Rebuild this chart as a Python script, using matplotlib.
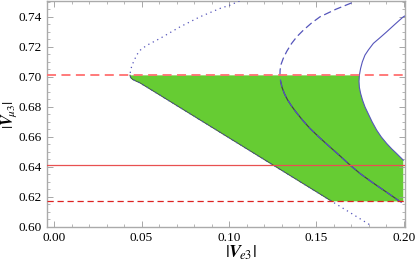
import matplotlib
matplotlib.use("Agg")
import matplotlib.pyplot as plt
from matplotlib.ticker import MultipleLocator

plt.rcParams['font.family'] = ['Liberation Serif', 'DejaVu Serif']
plt.rcParams['mathtext.fontset'] = 'stix'

# dotted curve, read from top end round the tip to bottom end
dot_x = [0.1060, 0.1006, 0.0949, 0.0834, 0.0720, 0.0606, 0.0530, 0.0495, 0.0475, 0.0458,
         0.0445, 0.0437, 0.0434, 0.0438, 0.0450, 0.0468, 0.0491, 0.0600, 0.0750, 0.0900,
         0.1050, 0.1200, 0.1350, 0.1500, 0.1587, 0.1700, 0.1815]
dot_y = [0.7505, 0.7478, 0.7456, 0.7400, 0.7333, 0.7256, 0.7210, 0.7180, 0.7150, 0.7110,
         0.7075, 0.7040, 0.7011, 0.6995, 0.6982, 0.6972, 0.6960, 0.6882, 0.6774, 0.6666,
         0.6558, 0.6450, 0.6342, 0.6234, 0.6171, 0.6090, 0.6007]

# dashed curve
dash_x = [0.1701, 0.1610, 0.1520, 0.1470, 0.1425, 0.1388, 0.1358, 0.1330, 0.1310, 0.1298,
          0.1292, 0.1291, 0.1295, 0.1303, 0.1316, 0.1333, 0.1355, 0.1380, 0.1420, 0.1463,
          0.1515, 0.1570, 0.1630, 0.1691, 0.1750, 0.1815, 0.1890, 0.1967, 0.2000]
dash_y = [0.7493, 0.7450, 0.7400, 0.7357, 0.7311, 0.7268, 0.7223, 0.7170, 0.7123, 0.7085,
          0.7045, 0.7011, 0.6970, 0.6930, 0.6890, 0.6850, 0.6810, 0.6770, 0.6712, 0.6656,
          0.6598, 0.6540, 0.6478, 0.6413, 0.6355, 0.6300, 0.6240, 0.6178, 0.6152]

# solid curve
sol_x = [0.2006, 0.1996, 0.1948, 0.1901, 0.1862, 0.1825, 0.1797, 0.1777, 0.1762, 0.1752,
         0.1745, 0.1743, 0.1745, 0.1752, 0.1763, 0.1777, 0.1795, 0.1818, 0.1844, 0.1870,
         0.1901, 0.1930, 0.1958, 0.1996]
sol_y = [0.7406, 0.7400, 0.7350, 0.7300, 0.7260, 0.7223, 0.7180, 0.7145, 0.7100, 0.7056,
         0.7011, 0.6970, 0.6930, 0.6890, 0.6845, 0.6800, 0.6756, 0.6700, 0.6645, 0.6600,
         0.6556, 0.6520, 0.6489, 0.6445]

y_upper = 0.701
y_lower = 0.617
y_mid = 0.641

fig = plt.figure(figsize=(4.15, 2.63), dpi=100)
ax = fig.add_axes([0.1133, 0.137, 0.8627, 0.859])

# green allowed region
reg_x = [0.0434, 0.1745]
reg_y = [y_upper, y_upper]
for xx, yy in zip(sol_x, sol_y):
    if yy < y_upper:
        reg_x.append(xx); reg_y.append(yy)
reg_x += [0.1996, 0.1996]
reg_y += [0.6445, y_lower]
lower = [(xx, yy) for xx, yy in zip(dot_x[12:], dot_y[12:]) if yy >= y_lower]
for xx, yy in reversed(lower):
    reg_x.append(xx); reg_y.append(yy)
ax.fill(reg_x, reg_y, color='#66cc33', lw=0, zorder=1)

# boundary of green along dotted branch
ax.plot([p[0] for p in lower], [p[1] for p in lower], color='#3a5a3a', lw=0.7, zorder=2)
# dashed branch inside green region looks dark
inside = [(xx, yy) for xx, yy in zip(dash_x, dash_y) if y_lower <= yy <= y_upper]
ax.plot([p[0] for p in inside], [p[1] for p in inside], color='#404848', lw=0.9, zorder=3)

ax.plot(dot_x, dot_y, color='#5555bb', lw=0.9, ls=(0, (1, 3)), zorder=4)
ax.plot(dash_x, dash_y, color='#5555bb', lw=0.9, ls=(0, (6, 3)), zorder=4)
ax.plot(sol_x, sol_y, color='#5555bb', lw=0.8, zorder=4)

ax.axhline(y_upper, color='#ff7070', lw=1.3, ls=(0, (5, 3)), zorder=5)
ax.axhline(y_mid, color='#e85050', lw=0.9, zorder=5)
ax.axhline(y_lower, color='#dd2222', lw=0.9, ls=(0, (5, 3)), zorder=5)

ax.set_xlim(-0.004, 0.2006)
ax.set_ylim(0.60, 0.7505)
ax.xaxis.set_major_locator(MultipleLocator(0.05))
ax.xaxis.set_minor_locator(MultipleLocator(0.01))
ax.yaxis.set_major_locator(MultipleLocator(0.02))
ax.yaxis.set_minor_locator(MultipleLocator(0.005))
ax.xaxis.set_major_formatter(lambda v, p: f"{v:.2f}")
ax.yaxis.set_major_formatter(lambda v, p: f"{v:.2f}")
ax.tick_params(which='both', direction='in', top=True, right=True, color='#999999',
               labelsize=9.5, labelcolor='black')
ax.tick_params(which='major', length=4, width=0.6)
ax.tick_params(which='minor', length=2, width=0.5)
for s in ax.spines.values():
    s.set_color('#aaaaaa')
    s.set_linewidth(1.0)

ax.set_xlabel(r'$|\boldsymbol{V}_{\!e3}|$', fontsize=13)
ax.set_ylabel(r'$|\boldsymbol{V}_{\!\mu3}|$', fontsize=11.5)
ax.xaxis.set_label_coords(0.54, -0.075)
ax.yaxis.set_label_coords(-0.076, 0.5)

fig.savefig('out.png', dpi=100)
